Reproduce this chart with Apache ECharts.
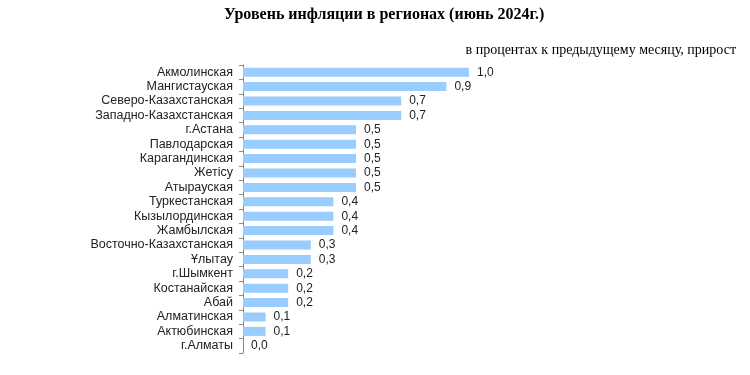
<!DOCTYPE html>
<html><head><meta charset="utf-8">
<script src="https://cdn.jsdelivr.net/npm/echarts@6/dist/echarts.min.js"></script>
<style>html,body{margin:0;padding:0;background:#fff}#c{width:750px;height:375px}</style>
</head><body><div id="c"></div>
<script>
var categories = ["Акмолинская","Мангистауская","Северо-Казахстанская","Западно-Казахстанская","г.Астана","Павлодарская","Карагандинская","Жетісу","Атырауская","Туркестанская","Кызылординская","Жамбылская","Восточно-Казахстанская","Ұлытау","г.Шымкент","Костанайская","Абай","Алматинская","Актюбинская","г.Алматы"];
var values = [1.0,0.9,0.7,0.7,0.5,0.5,0.5,0.5,0.5,0.4,0.4,0.4,0.3,0.3,0.2,0.2,0.2,0.1,0.1,0.0];
var titleText = "Уровень инфляции в регионах (июнь 2024г.)";
var subtitleText = "в процентах к предыдущему месяцу, прирост";

var chart = echarts.init(document.getElementById('c'));
chart.setOption({
  animation:false,
  title:[
    {text:titleText,left:219,top:2,textStyle:{fontFamily:'Liberation Serif',fontWeight:'bold',fontSize:16,color:'#000'}},
    {text:subtitleText,right:9,top:38,textStyle:{fontFamily:'Liberation Serif',fontWeight:'normal',fontSize:14,color:'#000'}}
  ],
  grid:{left:243,top:65,height:288,right:281},
  xAxis:{type:'value',min:0,max:1.0,show:false},
  yAxis:{type:'category',data:categories,inverse:true,
    axisLine:{show:true,lineStyle:{color:'#888',width:1}},
    axisTick:{show:true,length:4,lineStyle:{color:'#888'}},
    axisLabel:{interval:0,fontFamily:'Liberation Sans',fontSize:12.5,color:'#222',margin:10}
  },
  series:[{type:'bar',data:values,barWidth:9,
    itemStyle:{color:'#99CCFF'},
    label:{show:true,position:'right',distance:8,fontFamily:'Liberation Sans',fontSize:12,color:'#222',
      formatter:function(p){return p.value.toFixed(1).replace('.',',');}}
  }]
});
</script></body></html>
